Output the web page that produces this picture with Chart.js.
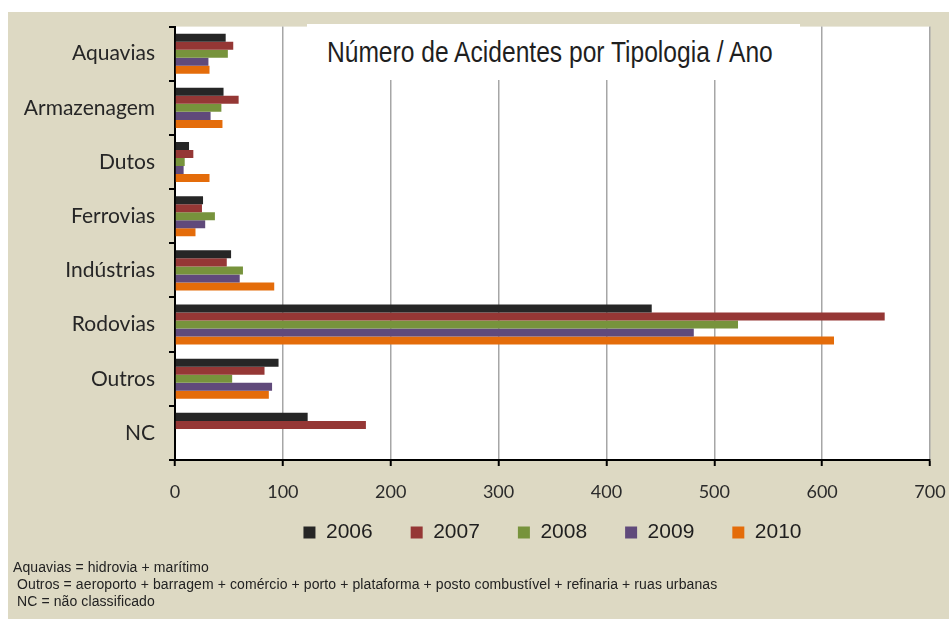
<!DOCTYPE html>
<html>
<head>
<meta charset="utf-8">
<script src="https://cdn.jsdelivr.net/npm/chart.js@4.4.1/dist/chart.umd.min.js"></script>
<style>
  html, body { margin: 0; padding: 0; background: #fff; }
  #wrap { position: relative; width: 949px; height: 619px; }
  #titulo {
    position: absolute; left: 307px; top: 24px; width: 493px; height: 56px;
    background: #fff; color: #1f1f1f;
    display: flex; justify-content: center; align-items: center;
    font-family: "Liberation Sans", Arial, sans-serif;
    font-size: 30px; white-space: nowrap;
  }
  #titulo span { display: inline-block; transform: scaleX(0.82); transform-origin: center; margin-right: 8px; }
  .nota {
    position: absolute; font-family: "Liberation Sans", Arial, sans-serif;
    font-size: 14px; line-height: 16px; color: #222; white-space: nowrap; letter-spacing: 0.1px;
  }
</style>
</head>
<body>
<div id="wrap">
  <canvas id="grafico" width="949" height="619"></canvas>
  <div id="titulo"><span>Número de Acidentes por Tipologia / Ano</span></div>
  <div class="nota" style="left:13px; top:559px;">Aquavias = hidrovia + marítimo</div>
  <div class="nota" style="left:17px; top:576px;">Outros = aeroporto + barragem + comércio + porto + plataforma + posto combustível + refinaria + ruas urbanas</div>
  <div class="nota" style="left:17px; top:593px;">NC = não classificado</div>
</div>
<script>
// Dados
const tipologias = ['Aquavias', 'Armazenagem', 'Dutos', 'Ferrovias', 'Indústrias', 'Rodovias', 'Outros', 'NC'];
const anos = ['2006', '2007', '2008', '2009', '2010'];
const acid2006 = [47, 45, 13, 26, 52, 442, 96, 123];
const acid2007 = [54, 59, 17, 25, 48, 658, 83, 177];
const acid2008 = [49, 43, 9, 37, 63, 522, 53, null];
const acid2009 = [31, 33, 8, 28, 60, 481, 90, null];
const acid2010 = [32, 44, 32, 19, 92, 611, 87, null];
const ticksX = [0, 100, 200, 300, 400, 500, 600, 700];

const cores = ['#262626', '#953735', '#77933c', '#604a7b', '#e46c0a'];
const series = [acid2006, acid2007, acid2008, acid2009, acid2010];

// fundo bege + área branca do gráfico
const fundo = {
    id: 'fundo',
    beforeDraw(chart) {
        const ctx = chart.ctx;
        const a = chart.chartArea;
        ctx.save();
        ctx.fillStyle = '#ddd9c3';
        ctx.fillRect(8, 12, chart.width - 8, chart.height - 12);
        ctx.fillStyle = '#ffffff';
        ctx.fillRect(a.left, a.top, a.right - a.left, a.bottom - a.top);
        ctx.restore();
    }
};

const ctx = document.getElementById('grafico').getContext('2d');
const myChart = new Chart(ctx, {
    type: 'bar',
    data: {
        labels: tipologias,
        datasets: anos.map((ano, i) => ({
            label: ano,
            data: series[i],
            backgroundColor: cores[i],
            borderWidth: 0,
            categoryPercentage: 0.74,
            barPercentage: 1.0
        }))
    },
    options: {
        indexAxis: 'y',
        responsive: false,
        animation: false,
        layout: { padding: { top: 25, right: 19, left: 0, bottom: 66 } },
        plugins: {
            tooltip: { enabled: false },
            legend: {
                position: 'bottom',
                fullSize: false,
                labels: {
                    boxWidth: 12,
                    boxHeight: 12,
                    padding: 38,
                    color: '#1f1f1f',
                    font: { family: '"Liberation Sans", Arial, sans-serif', size: 21 }
                }
            }
        },
        scales: {
            x: {
                min: 0,
                max: 700,
                afterBuildTicks: s => { s.ticks = ticksX.map(v => ({ value: v })); },
                afterFit: s => { s.height = 24; },
                grid: { color: '#a6a6a6', lineWidth: 1.5, tickColor: '#000', tickLength: 6, tickWidth: 2 },
                border: { color: '#000', width: 2 },
                ticks: {
                    mirror: true,  // evita o recorte dos rótulos (altura do eixo fixada)
                    padding: -43,
                    color: '#2b2b2b',
                    font: { family: 'Lato', size: 18 }
                }
            },
            y: {
                afterFit: s => { s.width = 175; },
                grid: { drawOnChartArea: false, tickColor: '#000', tickLength: 6, lineWidth: 2 },
                border: { color: '#000', width: 2 },
                ticks: {
                    padding: 14,
                    color: '#262626',
                    font: { family: 'Lato', size: 21 }
                }
            }
        }
    },
    plugins: [fundo]
});
</script>
</body>
</html>
